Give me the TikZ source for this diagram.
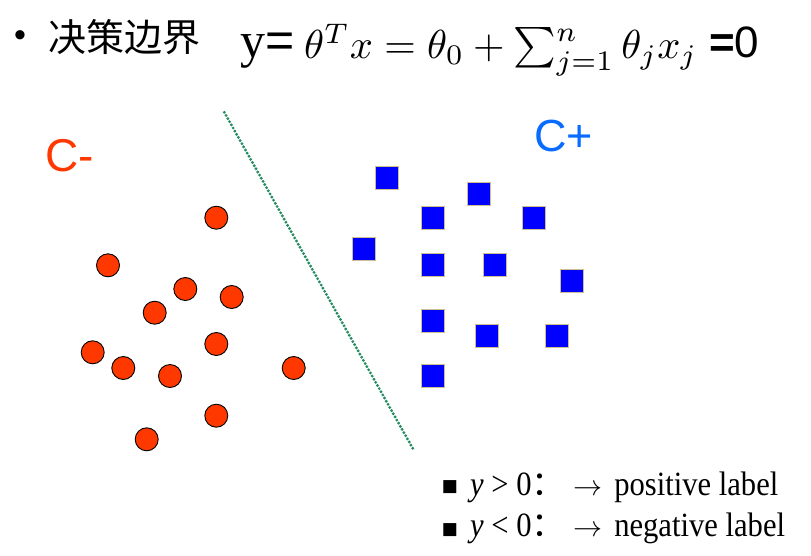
\documentclass[tikz,border=0pt]{standalone}
\usepackage{graphicx}
\usepackage{fontspec}
\setmainfont{Liberation Serif}
\setsansfont{Liberation Sans}
\newfontfamily\cjk{Noto Sans CJK SC}
\newfontfamily\lblfont[FakeStretch=0.9]{Liberation Serif}
\newfontfamily\symfont{DejaVu Sans}
\newcommand{\toarrow}{\scalebox{2.9}{\fontsize{10}{12}\selectfont$\rightarrow$}}
\definecolor{negred}{RGB}{255,56,0}
\definecolor{posblue}{RGB}{0,0,255}
\definecolor{postan}{RGB}{205,190,145}
\definecolor{cplus}{RGB}{10,108,255}
\definecolor{bdgreen}{RGB}{36,140,96}
\begin{document}
\begin{tikzpicture}[x=1pt,y=-1pt]
    \tikzstyle{every node}+=[inner sep=0pt]
    \tikzstyle{negpt}=[circle, draw=black, fill=negred, line width=0.9pt, minimum size=23pt]
    \tikzstyle{pospt}=[rectangle, draw=postan, fill=posblue, line width=1.1pt, minimum size=23pt]
    \useasboundingbox (0,0) rectangle (811,555);
    % title line
    \node [anchor=base, font=\sffamily\fontsize{34}{36}\selectfont] (dot) at (20,46) {•};
    \node [anchor=base west, font=\cjk\fontsize{38}{40}\selectfont] (title) at (48,51) {决策边界};
    \node [anchor=base west, font=\fontsize{50}{52}\selectfont] (ylhs) at (240,57) {y\textsf{=}};
    \node [anchor=base west] (eqn) at (304,58) {\scalebox{4.05}{$\theta^T x = \theta_0 + \sum_{j=1}^{\raisebox{-1pt}{$\scriptstyle n$}}\theta_j x_j$}};
    \node [anchor=base west, font=\sffamily\fontsize{44}{46}\selectfont] (eqz) at (709,57) {\textbf{=}0};
    % class labels
    \node [anchor=base west, text=negred, font=\sffamily\fontsize{46}{48}\selectfont] (cneg) at (45,171.7) {C-};
    \node [anchor=base west, text=cplus, font=\sffamily\fontsize{45}{47}\selectfont] (cpos) at (534,151.7) {C+};
    % decision boundary
    \coordinate (bdtop) at (224.3,112.3);
    \coordinate (bdbot) at (412.7,448.3);
    \draw [bdgreen, line width=3.2pt, line cap=round, dash pattern=on 0pt off 3.6pt] (bdtop) -- (bdbot);
    % negative samples
    \node [negpt] (n1) at (216.3,217.7) {};
    \node [negpt] (n2) at (108,265.3) {};
    \node [negpt] (n3) at (185.3,289) {};
    \node [negpt] (n4) at (231.7,297) {};
    \node [negpt] (n5) at (154.7,312.7) {};
    \node [negpt] (n6) at (216.3,344) {};
    \node [negpt] (n7) at (92.7,352.3) {};
    \node [negpt] (n8) at (123.3,368) {};
    \node [negpt] (n9) at (170,376) {};
    \node [negpt] (n10) at (293.7,368) {};
    \node [negpt] (n11) at (216.3,415.7) {};
    \node [negpt] (n12) at (146.7,439.3) {};
    % positive samples
    \node [pospt] (p1) at (386.7,178.3) {};
    \node [pospt] (p2) at (479.3,194) {};
    \node [pospt] (p3) at (433.2,217.7) {};
    \node [pospt] (p4) at (533.7,217.7) {};
    \node [pospt] (p5) at (364.3,249.3) {};
    \node [pospt] (p6) at (433.2,265.3) {};
    \node [pospt] (p7) at (495,265.3) {};
    \node [pospt] (p8) at (572.3,280.7) {};
    \node [pospt] (p9) at (433.2,320.7) {};
    \node [pospt] (p10) at (487.3,336) {};
    \node [pospt] (p11) at (557,336) {};
    \node [pospt] (p12) at (433.2,375.7) {};
    % decision rule
    \node [font=\symfont\fontsize{17}{19}\selectfont] (possq) at (450,487) {■};
    \node [anchor=base west, font=\lblfont\fontsize{34}{36}\selectfont] (posrule) at (470,495) {\textit{y} > 0{\cjk ：}\ \toarrow\hspace{12pt}positive label};
    \node [font=\symfont\fontsize{17}{19}\selectfont] (negsq) at (450,530) {■};
    \node [anchor=base west, font=\lblfont\fontsize{34}{36}\selectfont] (negrule) at (470,536) {\textit{y} < 0{\cjk ：}\ \toarrow\hspace{12pt}negative label};
\end{tikzpicture}
\end{document}
